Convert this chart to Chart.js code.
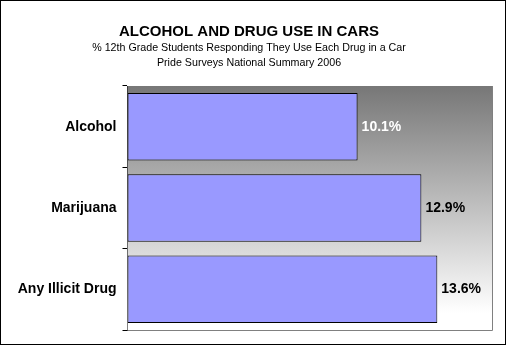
<!DOCTYPE html>
<html>
<head>
<meta charset="utf-8">
<script src="https://cdn.jsdelivr.net/npm/chart.js@4"></script>
<style>
  body { margin: 0; background: #fff; }
  canvas { display: block; }
</style>
</head>
<body>
<canvas id="grafica" width="506" height="345"></canvas>
<script>
// datos del grafico
const categorias = ['Alcohol', 'Marijuana', 'Any Illicit Drug'];
const porcentajes = [10.1, 12.9, 13.6];
const ejeMax = 16;

const titulo = 'ALCOHOL AND DRUG USE IN CARS';
const subtitulos = ['% 12th Grade Students Responding They Use Each Drug in a Car', 'Pride Surveys National Summary 2006'];

const fuente = '"Liberation Sans", Arial, sans-serif';

// fondo degradado + borde gris a la derecha y abajo
const fondoPlot = {
  id: 'fondoPlot',
  beforeDatasetsDraw(chart) {
    const { ctx, chartArea: a } = chart;
    const g = ctx.createLinearGradient(0, a.top, 0, a.bottom);
    g.addColorStop(0, '#777777');
    g.addColorStop(0.93, '#ffffff');
    g.addColorStop(1, '#ffffff');
    ctx.save();
    ctx.fillStyle = g;
    ctx.fillRect(a.left, a.top, a.right - a.left, a.bottom - a.top);
    ctx.strokeStyle = '#808080';
    ctx.lineWidth = 1;
    ctx.beginPath();
    ctx.moveTo(a.left, Math.round(a.bottom) + 0.5);
    ctx.lineTo(Math.round(a.right) + 0.5, Math.round(a.bottom) + 0.5);
    ctx.lineTo(Math.round(a.right) + 0.5, a.top);
    ctx.stroke();
    ctx.restore();
  }
};

// titulos, etiquetas de valor y marco
const textos = {
  id: 'textos',
  afterDraw(chart) {
    const ctx = chart.ctx;
    ctx.save();
    ctx.textAlign = 'center';
    ctx.textBaseline = 'alphabetic';
    ctx.fillStyle = '#000';
    ctx.font = 'bold 15px ' + fuente;
    ctx.fillText(titulo, 249, 36);
    ctx.font = '10.7px ' + fuente;
    ctx.fillText(subtitulos[0], 249, 51);
    ctx.fillText(subtitulos[1], 249, 66);

    const meta = chart.getDatasetMeta(0);
    ctx.font = 'bold 14px ' + fuente;
    ctx.textAlign = 'left';
    ctx.textBaseline = 'middle';
    meta.data.forEach((bar, i) => {
      ctx.fillStyle = i === 0 ? '#ffffff' : '#000000';
      ctx.fillText(porcentajes[i].toFixed(1) + '%', bar.x + 4, bar.y);
    });

    ctx.strokeStyle = '#000';
    ctx.lineWidth = 1;
    ctx.strokeRect(0.5, 0.5, 505, 344);
    ctx.restore();
  }
};

new Chart(document.getElementById('grafica'), {
  type: 'bar',
  data: {
    labels: categorias,
    datasets: [{
      data: porcentajes,
      backgroundColor: '#9999ff',
      borderColor: '#000000',
      borderWidth: 1,
      borderSkipped: false,
      barPercentage: 0.83,
      categoryPercentage: 1
    }]
  },
  options: {
    indexAxis: 'y',
    responsive: false,
    animation: false,
    layout: { padding: { top: 86, bottom: 15, right: 14, left: 0 } },
    plugins: {
      legend: { display: false },
      tooltip: { enabled: false },
      title: { display: false }
    },
    scales: {
      x: {
        display: false,
        min: 0,
        max: ejeMax
      },
      y: {
        afterFit(scale) { scale.width = 127.5; },
        border: { color: '#000', width: 1 },
        grid: { drawOnChartArea: false, tickLength: 5, color: '#000', offset: true },
        ticks: {
          color: '#000',
          padding: 6,
          font: { family: fuente, size: 14, weight: 'bold' }
        }
      }
    }
  },
  plugins: [fondoPlot, textos]
});
</script>
</body>
</html>
